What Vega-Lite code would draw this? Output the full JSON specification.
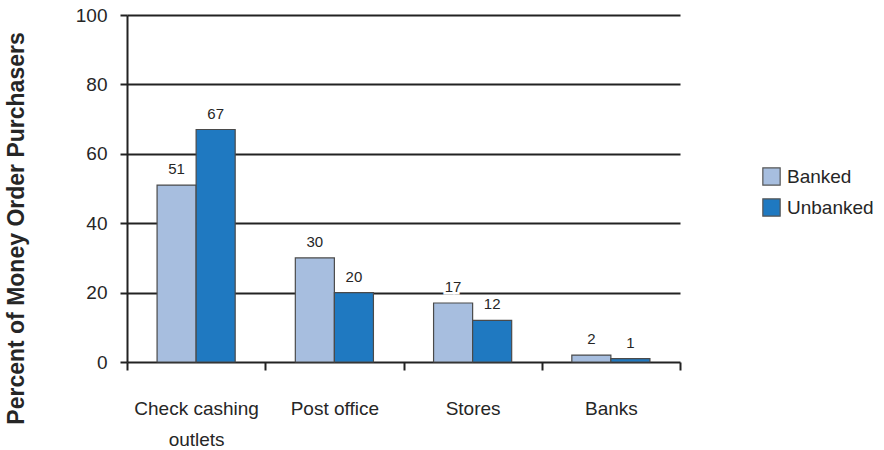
{
  "$schema": "https://vega.github.io/schema/vega-lite/v6.json",
  "width": 553,
  "height": 347,
  "autosize": "none",
  "padding": {"left": 127, "top": 15, "right": 204, "bottom": 88},
  "background": "white",
  "data": {
    "values": [
      {"place": "Check cashing outlets", "group": "Banked", "pct": 51},
      {"place": "Check cashing outlets", "group": "Unbanked", "pct": 67},
      {"place": "Post office", "group": "Banked", "pct": 30},
      {"place": "Post office", "group": "Unbanked", "pct": 20},
      {"place": "Stores", "group": "Banked", "pct": 17},
      {"place": "Stores", "group": "Unbanked", "pct": 12},
      {"place": "Banks", "group": "Banked", "pct": 2},
      {"place": "Banks", "group": "Unbanked", "pct": 1}
    ]
  },
  "config": {
    "font": "Liberation Sans",
    "view": {"stroke": null}
  },
  "encoding": {
    "x": {
      "field": "place",
      "type": "nominal",
      "sort": ["Check cashing outlets", "Post office", "Stores", "Banks"],
      "scale": {"paddingInner": 0, "paddingOuter": 0},
      "axis": {
        "title": null,
        "labelAngle": 0,
        "labelFontSize": 19,
        "labelColor": "#262626",
        "labelPadding": 29,
        "labelLineHeight": 31,
        "labelExpr": "datum.label == 'Check cashing outlets' ? ['Check cashing', 'outlets'] : datum.label",
        "domain": false,
        "tickBand": "extent",
        "tickColor": "#222",
        "tickWidth": 2,
        "tickSize": 8,
        "grid": false
      }
    },
    "xOffset": {
      "field": "group",
      "type": "nominal",
      "scale": {"paddingInner": 0, "paddingOuter": 0.77}
    },
    "y": {
      "field": "pct",
      "type": "quantitative",
      "scale": {"domain": [0, 100]},
      "axis": {
        "title": "Percent of Money Order Purchasers",
        "titleFontSize": 23,
        "titleFontWeight": "bold",
        "titleColor": "#262626",
        "titleX": -111,
        "titleY": 213,
        "titleAngle": -90,
        "titleAlign": "center",
        "titleBaseline": "middle",
        "values": [0, 20, 40, 60, 80, 100],
        "labelFontSize": 19,
        "labelColor": "#262626",
        "labelPadding": 13,
        "tickColor": "#222",
        "tickWidth": 2,
        "tickSize": 7,
        "domainColor": "#222",
        "domainWidth": 2,
        "grid": true,
        "gridColor": "#222",
        "gridWidth": 2
      }
    }
  },
  "layer": [
    {
      "mark": {"type": "bar", "stroke": "#4a4a4a", "strokeWidth": 1.2},
      "encoding": {
        "color": {
          "field": "group",
          "type": "nominal",
          "scale": {"domain": ["Banked", "Unbanked"], "range": ["#a7bedf", "#1f79c1"]},
          "legend": {
            "title": null,
            "orient": "none",
            "legendX": 635,
            "legendY": 152,
            "symbolType": "square",
            "symbolSize": 300,
            "symbolStrokeColor": "#555",
            "symbolStrokeWidth": 1.2,
            "labelFontSize": 19,
            "labelColor": "#262626",
            "labelOffset": 6,
            "rowPadding": 8
          }
        }
      }
    },
    {
      "mark": {"type": "text", "baseline": "alphabetic", "dy": -11, "fontSize": 15, "stroke": "white", "strokeWidth": 5},
      "encoding": {"text": {"field": "pct", "type": "quantitative"}}
    },
    {
      "mark": {"type": "text", "baseline": "alphabetic", "dy": -11, "fontSize": 15, "color": "#262626"},
      "encoding": {"text": {"field": "pct", "type": "quantitative"}}
    }
  ]
}
